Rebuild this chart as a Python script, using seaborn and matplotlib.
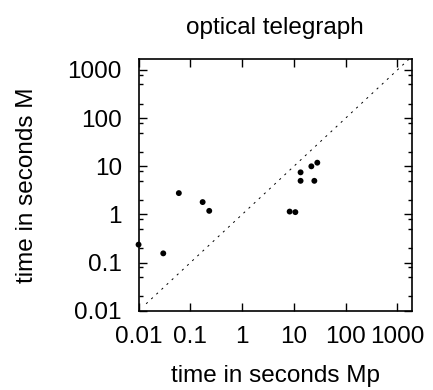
import numpy as np
import pandas as pd
import seaborn as sns
import matplotlib
matplotlib.use('Agg')
import matplotlib.pyplot as plt
from matplotlib.ticker import LogLocator, FixedFormatter, FixedLocator

# times (s)
time_mp = [0.01, 0.030, 0.060, 0.173, 0.232, 8.3, 10.7, 13.5, 13.5, 21.8, 24.9, 28.4]
time_m = [0.237, 0.156, 2.78, 1.81, 1.19, 1.15, 1.12, 7.5, 5.0, 10.0, 5.0, 11.9]
diag = [0.014, 1750]
tick_vals = [0.01, 0.1, 1, 10, 100, 1000]
tick_labels = ['0.01', '0.1', '1', '10', '100', '1000']

sns.set_style('ticks')
plt.rcParams['font.family'] = ['Liberation Sans', 'DejaVu Sans']
plt.rcParams['font.size'] = 17.5
plt.rcParams['text.color'] = 'black'
plt.rcParams['axes.labelcolor'] = 'black'
plt.rcParams['xtick.labelcolor'] = 'black'
plt.rcParams['ytick.labelcolor'] = 'black'

df = pd.DataFrame({'Mp': time_mp, 'M': time_m})

fig = plt.figure(figsize=(4.33, 3.9), dpi=100)
ax = fig.add_axes([0.320, 0.203, 0.631, 0.646])

sns.lineplot(x=diag, y=diag, ax=ax, color='black', linewidth=0.7,
             linestyle=(0, (2.2, 5)))
sns.scatterplot(data=df, x='Mp', y='M', ax=ax, color='black', s=18,
                edgecolor='none', clip_on=False, zorder=3)

ax.set_xscale('log')
ax.set_yscale('log')
ax.set_xlim(0.01, 1900)
ax.set_ylim(0.01, 1700)

for axis in (ax.xaxis, ax.yaxis):
    axis.set_major_locator(FixedLocator(tick_vals))
    axis.set_major_formatter(FixedFormatter(tick_labels))
    axis.set_minor_locator(LogLocator(base=10, subs=[2, 5, 8]))

ax.tick_params(which='both', direction='in', top=True, right=True,
               color='black', labelsize=17.5, labelcolor='black')
ax.tick_params(axis='x', which='major', pad=11)
ax.tick_params(axis='y', which='major', pad=12)
ax.tick_params(which='major', length=6, width=1)
ax.tick_params(which='minor', length=3, width=1)
for sp in ax.spines.values():
    sp.set_linewidth(1.2)
    sp.set_color('black')

ax.set_xlabel('time in seconds Mp', fontsize=17.5, labelpad=12, color='black')
ax.set_ylabel('time in seconds M', fontsize=17.5, labelpad=21, color='black')
ax.set_title('optical telegraph', fontsize=17.5, pad=18, color='black')

fig.savefig('out.png', dpi=100)
